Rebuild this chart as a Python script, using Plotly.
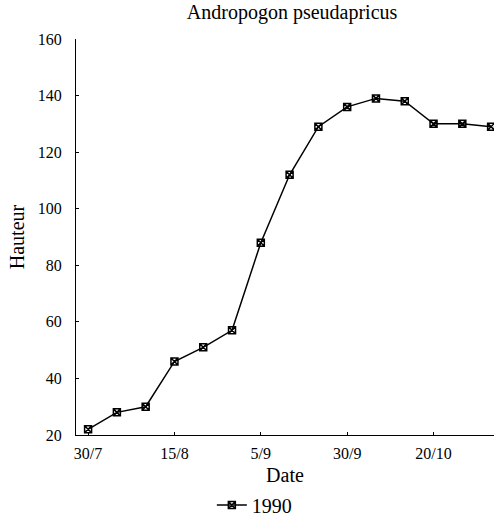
import plotly.graph_objects as go

dates = ["30/7", "5/8", "10/8", "15/8", "22/8", "29/8", "5/9", "13/9", "21/9",
         "30/9", "7/10", "14/10", "20/10", "27/10", "3/11"]
hauteur_1990 = [22, 28, 30, 46, 51, 57, 88, 112, 129, 136, 139, 138, 130, 130, 129]
tick_labels = ["30/7", "15/8", "5/9", "30/9", "20/10"]
y_ticks = [20, 40, 60, 80, 100, 120, 140, 160]

font = "Liberation Serif"

fig = go.Figure()
fig.add_trace(go.Scatter(
    x=dates, y=hauteur_1990, mode="lines+markers", name="1990",
    line=dict(color="black", width=1.5),
    marker=dict(symbol="square-x-open", size=7, color="black", line=dict(width=1.5)),
))

fig.update_layout(
    width=495, height=518,
    margin=dict(l=76, r=1, t=39, b=83, autoexpand=False),
    paper_bgcolor="white", plot_bgcolor="white",
    font=dict(family=font, size=15, color="black"),
    title=dict(text="Andropogon pseudapricus", x=0.59, xanchor="center",
               y=0.977, yanchor="middle", font=dict(size=20, family=font)),
    showlegend=True,
    legend=dict(orientation="h", x=0.325, xanchor="left", yref="container",
                y=0.025, yanchor="middle",
                font=dict(size=20, family=font), itemwidth=30),
    xaxis=dict(type="category", categoryorder="array", categoryarray=dates,
               range=[-0.42, 14.1], tickmode="array", tickvals=tick_labels,
               ticktext=tick_labels, showline=True, linecolor="black", linewidth=1,
               ticks="inside", ticklen=3, tickcolor="black", showgrid=False,
               zeroline=False, tickfont=dict(size=16, family=font), ticklabelstandoff=4,
               automargin=False,
               title=dict(text="Date", font=dict(size=20, family=font), standoff=6)),
    yaxis=dict(range=[20, 160], tickmode="array", tickvals=y_ticks,
               showline=True, linecolor="black", linewidth=1,
               ticks="inside", ticklen=3, tickcolor="black", showgrid=False,
               zeroline=False, tickfont=dict(size=16, family=font), ticklabelstandoff=10,
               automargin=False,
               title=dict(text="Hauteur", font=dict(size=20, family=font), standoff=7)),
)

fig.write_html("out.html")
